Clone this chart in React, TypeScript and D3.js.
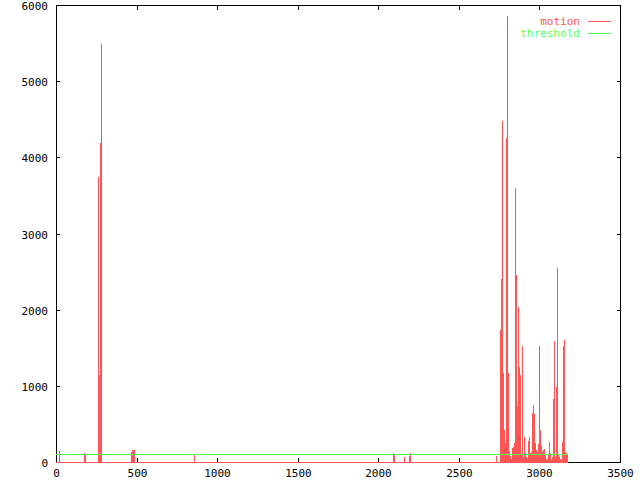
import React from "react";
import * as d3 from "d3";

const frames = [
  19, 174, 180, 261, 267, 273, 279, 465, 472, 478, 484, 856,
  2091, 2098, 2160, 2191, 2197,
  2731, 2755, 2762, 2768, 2774, 2780, 2786, 2793, 2799, 2805, 2811, 2817, 2824,
  2830, 2836, 2842, 2848, 2855, 2861, 2867, 2873, 2879, 2886, 2892, 2898, 2904,
  2910, 2917, 2923, 2929, 2935, 2942, 2948, 2954, 2960, 2966, 2973, 2979, 2985,
  2991, 2997, 3004, 3010, 3016, 3022, 3028, 3035, 3041, 3047, 3053, 3059, 3066,
  3072, 3078, 3084, 3090, 3097, 3103, 3109, 3115, 3122, 3128, 3134, 3140, 3146,
  3153, 3159, 3165, 3171,
];
const motion = [
  145, 118, 90, 3737, 1145, 4184, 5487, 130, 158, 160, 160, 100,
  118, 90, 70, 85, 118,
  80, 1737, 2400, 4474, 1170, 420, 250, 4250, 5857, 1170, 150, 80, 40, 180,
  200, 250, 3600, 2450, 737, 2040, 1250, 1145, 90, 1527, 70, 330, 120,
  70, 50, 270, 330, 120, 130, 645, 750, 630, 250, 160, 130, 237,
  1527, 420, 210, 130, 160, 170, 100, 40, 40, 90, 263, 115, 25,
  70, 830, 1590, 70, 990, 2550, 100, 65, 40, 30, 263, 1527, 1605,
  130, 120, 100, 0,
];
const thresholdValue = 100;
const firstFrame = 0;
const lastFrame = 3171;
const xTicks = [0, 500, 1000, 1500, 2000, 2500, 3000, 3500];
const yTicks = [0, 1000, 2000, 3000, 4000, 5000, 6000];
const seriesNames = ["motion", "threshold"];

const RED = "#ff5555";
const GREEN = "#55ff55";
const FONT = "'DejaVu Sans Mono', monospace";

export default function App() {
  const x = d3.scaleLinear().domain([0, 3500]).range([56, 620]);
  const y = d3.scaleLinear().domain([0, 6000]).range([462, 5]);
  const x0 = x(0), x1 = x(3500), yb = y(0), yt = y(6000);
  const yT = Math.round(y(thresholdValue)) + 0.5;

  return (
    <svg
      width={640}
      height={480}
      style={{ position: "absolute", left: 0, top: 0, background: "#fff" }}
      shapeRendering="crispEdges"
    >
      <rect x={0} y={0} width={640} height={480} fill="#fff" />
      {/* border */}
      <rect x={x0 + 0.5} y={yt + 0.5} width={x1 - x0} height={yb - yt} fill="none" stroke="#000" strokeWidth={1} />
      {/* y ticks */}
      {yTicks.map((t) => {
        const yy = Math.round(y(t)) + 0.5;
        return (
          <g key={"y" + t}>
            <line x1={x0} x2={x0 + 4} y1={yy} y2={yy} stroke="#000" />
            <line x1={x1 - 3} x2={x1 + 1} y1={yy} y2={yy} stroke="#000" />
            <text x={48} y={yy + 4} textAnchor="end" fontFamily={FONT} fontSize={11} fill="#000">
              {t}
            </text>
          </g>
        );
      })}
      {/* x ticks */}
      {xTicks.map((t) => {
        const xx = Math.round(x(t)) + 0.5;
        return (
          <g key={"x" + t}>
            <line x1={xx} x2={xx} y1={yb + 1} y2={yb - 4} stroke="#000" />
            <line x1={xx} x2={xx} y1={yt} y2={yt + 5} stroke="#000" />
            <text x={xx} y={477} textAnchor="middle" fontFamily={FONT} fontSize={11} fill="#000">
              {t}
            </text>
          </g>
        );
      })}
      {/* motion impulses */}
      <line x1={Math.round(x(firstFrame))} x2={Math.round(x(lastFrame)) + 1} y1={yb + 0.5} y2={yb + 0.5} stroke={RED} />
      {frames.map((f, i) => {
        const v = motion[i];
        if (v <= 0) return null;
        const top = Math.round(y(v));
        return <rect key={"m" + i} x={Math.round(x(f))} y={top} width={1} height={yb + 1 - top} fill={RED} />;
      })}
      {/* threshold */}
      <line x1={Math.round(x(firstFrame))} x2={Math.round(x(lastFrame)) + 1} y1={yT} y2={yT} stroke={GREEN} />
      {/* legend */}
      <text x={580} y={25} textAnchor="end" fontFamily={FONT} fontSize={11} fill={RED}>
        {seriesNames[0]}
      </text>
      <line x1={588} x2={611} y1={21.5} y2={21.5} stroke={RED} />
      <text x={580} y={37} textAnchor="end" fontFamily={FONT} fontSize={11} fill={GREEN}>
        {seriesNames[1]}
      </text>
      <line x1={588} x2={611} y1={33.5} y2={33.5} stroke={GREEN} />
    </svg>
  );
}
